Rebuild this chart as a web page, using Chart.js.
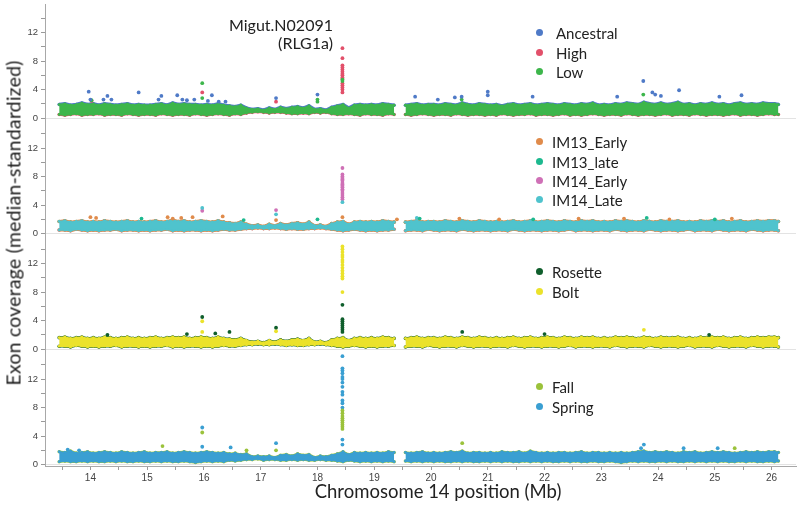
<!DOCTYPE html>
<html>
<head>
<meta charset="utf-8">
<script src="https://cdn.jsdelivr.net/npm/chart.js@4.4.1/dist/chart.umd.min.js"></script>
<style>
  body { margin: 0; background: #fff; }
  #wrap { position: relative; width: 800px; height: 505px; font-family: Lato, "Open Sans", sans-serif; color: #222; overflow: hidden; }
  #chart { position: absolute; left: 0; top: 0; }
  .lg { position: absolute; font-size: 15px; line-height: 18px; white-space: nowrap; }
  .lg i { position: absolute; left: -17px; top: 5px; width: 7px; height: 7px; border-radius: 50%; }
  .note { position: absolute; font-size: 16px; line-height: 20px; text-align: right; white-space: nowrap; }
  #ytitle { position: absolute; left: 13px; top: 223px; font-size: 19.5px; letter-spacing: 0.2px; white-space: nowrap; transform: translate(-50%, -50%) rotate(-90deg); }
  #xtitle { position: absolute; left: 438px; top: 491px; font-size: 18.5px; white-space: nowrap; transform: translate(-50%, -50%); }
</style>
</head>
<body>
<div id="wrap">
  <canvas id="chart" width="800" height="505"></canvas>
  <div class="note" style="left:180px;width:153px;top:15px">Migut.N02091</div>
  <div class="note" style="left:180px;width:153px;top:33px">(RLG1a)</div>
  <div id="legends"></div>
  <div id="ytitle">Exon coverage (median-standardized)</div>
  <div id="xtitle">Chromosome 14 position (Mb)</div>
</div>
<script>
// bin centres (Mb) used for the dense coverage band
const binMb = [13.45,13.55,13.65,13.75,13.85,13.95,
  14.05,14.15,14.25,14.35,14.45,14.55,14.65,14.75,14.85,14.95,
  15.05,15.15,15.25,15.35,15.45,15.55,15.65,15.75,15.85,15.95,
  16.05,16.15,16.25,16.35,16.45,16.55,16.65,16.75,16.85,16.95,
  17.05,17.15,17.25,17.35,17.45,17.55,17.65,17.75,17.85,17.95,
  18.05,18.15,18.25,18.35,18.45,18.55,18.65,18.75,18.85,18.95,
  19.05,19.15,19.25,19.35,19.45,19.55,19.65,19.75,19.85,19.95,
  20.05,20.15,20.25,20.35,20.45,20.55,20.65,20.75,20.85,20.95,
  21.05,21.15,21.25,21.35,21.45,21.55,21.65,21.75,21.85,21.95,
  22.05,22.15,22.25,22.35,22.45,22.55,22.65,22.75,22.85,22.95,
  23.05,23.15,23.25,23.35,23.45,23.55,23.65,23.75,23.85,23.95,
  24.05,24.15,24.25,24.35,24.45,24.55,24.65,24.75,24.85,24.95,
  25.05,25.15,25.25,25.35,25.45,25.55,25.65,25.75,25.85,25.95,
  26.05,26.12];

const xTickMb = [13.5,14,14.5,15,15.5,16,16.5,17,17.5,18,18.5,19,19.5,20,20.5,21,21.5,22,22.5,23,23.5,24,24.5,25,25.5,26];
const yTicks = [0,2,4,6,8,10,12,14];

// panel 1: Ancestral / High / Low  (band = top and bottom of the point cloud)
const p1Hi = [1.9,2.0,1.8,1.9,2.1,1.9,
  2.0,1.8,2.0,1.9,1.8,1.9,2.0,1.8,1.9,1.8,
  1.8,1.9,2.0,1.8,2.1,1.9,2.0,1.9,1.9,1.8,
  1.9,1.8,2.0,1.8,1.7,1.6,1.8,1.4,1.2,1.3,
  1.1,1.4,1.2,1.5,1.3,1.5,1.6,1.4,1.7,1.2,
  1.3,1.1,1.5,1.7,1.9,1.4,1.8,1.9,1.8,1.9,
  1.8,2.0,1.9,1.8,null,1.8,1.9,2.0,1.8,1.9,
  1.9,1.8,2.0,1.9,1.8,2.1,1.9,1.8,2.0,1.9,
  1.8,1.9,1.7,1.9,2.0,1.8,1.9,2.0,1.8,1.9,
  2.0,1.9,1.8,2.0,1.9,1.8,2.0,1.9,2.1,1.8,
  1.9,1.8,2.0,1.9,2.1,2.0,1.9,2.2,2.0,1.9,
  2.1,1.9,2.0,2.2,1.9,2.0,1.8,2.0,1.9,2.1,
  1.9,2.0,1.8,2.0,2.1,1.9,2.0,1.9,2.1,2.0,
  2.0,1.9];
const p1Lo = [0.5,0.4,0.5,0.6,0.4,0.5,
  0.5,0.6,0.4,0.5,0.5,0.4,0.6,0.5,0.4,0.5,
  0.5,0.4,0.6,0.5,0.4,0.5,0.5,0.4,0.6,0.5,
  0.4,0.5,0.6,0.5,0.4,0.6,0.5,0.7,0.8,0.9,
  0.8,0.7,0.8,0.8,0.7,0.6,0.6,0.7,0.6,0.8,
  0.7,0.8,0.6,0.5,0.5,0.6,0.5,0.4,0.6,0.5,
  0.5,0.4,0.6,0.5,null,0.5,0.4,0.5,0.6,0.5,
  0.4,0.5,0.5,0.4,0.6,0.5,0.4,0.5,0.5,0.4,
  0.5,0.4,0.6,0.5,0.4,0.5,0.5,0.6,0.4,0.5,
  0.5,0.4,0.5,0.6,0.4,0.5,0.4,0.5,0.6,0.5,
  0.4,0.5,0.5,0.4,0.6,0.5,0.4,0.5,0.5,0.4,
  0.5,0.6,0.4,0.5,0.5,0.4,0.6,0.5,0.4,0.5,
  0.5,0.4,0.5,0.6,0.4,0.5,0.5,0.4,0.5,0.6,
  0.5,0.5];

// panel 2: IM13 / IM14
const p2Hi = [1.7,1.8,1.6,1.7,1.8,1.6,
  1.7,1.6,1.8,1.7,1.6,1.7,1.8,1.6,1.7,1.6,
  1.7,1.8,1.6,1.7,1.9,1.7,1.8,1.6,1.7,1.8,
  1.7,1.6,1.8,1.6,1.5,1.4,1.6,1.3,1.1,1.2,
  1.0,1.3,1.1,1.4,1.2,1.4,1.5,1.3,1.6,1.1,
  1.2,1.0,1.4,1.6,1.7,1.3,1.6,1.7,1.6,1.7,
  1.6,1.8,1.7,1.6,null,1.6,1.7,1.8,1.6,1.7,
  1.7,1.6,1.8,1.7,1.6,1.8,1.7,1.6,1.8,1.7,
  1.6,1.7,1.6,1.7,1.8,1.6,1.7,1.8,1.6,1.7,
  1.8,1.7,1.6,1.8,1.7,1.6,1.8,1.7,1.8,1.6,
  1.7,1.6,1.8,1.7,1.8,1.7,1.6,1.8,1.7,1.6,
  1.8,1.7,1.7,1.8,1.6,1.7,1.6,1.8,1.7,1.8,
  1.7,1.8,1.6,1.7,1.8,1.6,1.7,1.8,1.7,1.8,
  1.8,1.7];
const p2Lo = [0.5,0.5,0.4,0.6,0.5,0.4,
  0.5,0.4,0.5,0.5,0.6,0.4,0.5,0.5,0.4,0.5,
  0.4,0.5,0.5,0.6,0.4,0.5,0.4,0.5,0.5,0.4,
  0.5,0.4,0.5,0.6,0.5,0.5,0.6,0.7,0.7,0.8,
  0.7,0.7,0.8,0.7,0.6,0.7,0.6,0.6,0.7,0.7,
  0.8,0.7,0.6,0.5,0.4,0.5,0.6,0.5,0.4,0.5,
  0.4,0.5,0.5,0.6,null,0.4,0.5,0.5,0.4,0.6,
  0.5,0.4,0.5,0.5,0.4,0.6,0.5,0.4,0.5,0.5,
  0.4,0.5,0.5,0.4,0.6,0.5,0.4,0.5,0.5,0.4,
  0.5,0.5,0.4,0.5,0.6,0.4,0.5,0.5,0.4,0.5,
  0.5,0.4,0.6,0.5,0.4,0.5,0.5,0.4,0.6,0.5,
  0.4,0.5,0.5,0.4,0.5,0.6,0.4,0.5,0.5,0.4,
  0.6,0.5,0.4,0.5,0.5,0.4,0.6,0.5,0.4,0.5,
  0.5,0.4];

// panel 3: Rosette / Bolt
const p3Hi = [1.6,1.7,1.5,1.6,1.7,1.5,
  1.6,1.5,1.7,1.6,1.5,1.6,1.7,1.5,1.6,1.5,
  1.6,1.7,1.5,1.6,1.7,1.6,1.7,1.5,1.6,1.7,
  1.6,1.5,1.7,1.5,1.4,1.3,1.5,1.2,1.0,1.1,
  0.9,1.2,1.0,1.3,1.1,1.3,1.4,1.2,1.5,1.0,
  1.1,0.9,1.3,1.5,1.6,1.2,1.5,1.6,1.5,1.6,
  1.5,1.7,1.6,1.5,null,1.5,1.6,1.7,1.5,1.6,
  1.6,1.5,1.7,1.6,1.5,1.7,1.6,1.5,1.7,1.6,
  1.5,1.6,1.5,1.6,1.7,1.5,1.6,1.7,1.5,1.6,
  1.7,1.6,1.5,1.7,1.6,1.5,1.7,1.6,1.7,1.5,
  1.6,1.5,1.7,1.6,1.7,1.6,1.5,1.7,1.6,1.5,
  1.7,1.6,1.6,1.7,1.5,1.6,1.5,1.7,1.6,1.7,
  1.6,1.7,1.5,1.6,1.7,1.5,1.6,1.7,1.6,1.7,
  1.7,1.6];
const p3Lo = [0.4,0.4,0.3,0.5,0.4,0.3,
  0.4,0.3,0.4,0.4,0.5,0.3,0.4,0.4,0.3,0.4,
  0.3,0.4,0.4,0.5,0.3,0.4,0.3,0.4,0.4,0.3,
  0.4,0.3,0.4,0.5,0.4,0.4,0.5,0.6,0.6,0.7,
  0.6,0.6,0.7,0.6,0.5,0.6,0.5,0.5,0.6,0.6,
  0.7,0.6,0.5,0.4,0.3,0.4,0.5,0.4,0.3,0.4,
  0.3,0.4,0.4,0.5,null,0.3,0.4,0.4,0.3,0.5,
  0.4,0.3,0.4,0.4,0.3,0.5,0.4,0.3,0.4,0.4,
  0.3,0.4,0.4,0.3,0.5,0.4,0.3,0.4,0.4,0.3,
  0.4,0.4,0.3,0.4,0.5,0.3,0.4,0.4,0.3,0.4,
  0.4,0.3,0.5,0.4,0.3,0.4,0.4,0.3,0.5,0.4,
  0.3,0.4,0.4,0.3,0.4,0.5,0.3,0.4,0.4,0.3,
  0.5,0.4,0.3,0.4,0.4,0.3,0.5,0.4,0.3,0.4,
  0.4,0.3];

// panel 4: Fall / Spring
const p4Hi = [1.8,1.7,1.9,1.6,1.7,1.8,
  1.6,1.7,1.8,1.7,1.6,1.8,1.7,1.6,1.7,1.8,
  1.6,1.7,1.7,1.8,1.6,1.7,1.8,1.7,1.6,1.7,
  1.8,1.7,1.6,1.7,1.5,1.6,1.4,1.5,1.1,1.2,
  1.1,1.2,1.0,1.3,1.4,1.2,1.5,1.3,1.4,1.0,
  1.2,1.1,1.3,1.5,1.8,1.4,1.7,1.6,1.7,1.6,
  1.7,1.6,1.8,1.7,null,1.7,1.6,1.7,1.8,1.6,
  1.7,1.6,1.7,1.8,1.7,1.9,1.6,1.7,1.7,1.6,
  1.7,1.6,1.8,1.7,1.7,1.8,1.6,1.9,1.7,1.6,
  1.7,1.6,1.7,1.7,1.6,1.7,1.8,1.6,1.7,1.7,
  1.6,1.7,1.6,1.7,1.6,1.7,1.8,1.9,1.7,1.8,
  1.7,1.8,1.7,1.6,1.8,1.7,1.8,1.6,1.7,1.8,
  1.7,1.8,1.7,1.6,1.7,1.8,1.7,1.8,1.7,1.8,
  1.8,1.7];
const p4Lo = [0.4,0.5,0.4,0.4,0.5,0.4,
  0.5,0.4,0.4,0.5,0.4,0.5,0.4,0.4,0.5,0.4,
  0.4,0.5,0.4,0.5,0.4,0.4,0.5,0.4,0.3,0.4,
  0.5,0.4,0.5,0.4,0.6,0.5,0.6,0.7,0.7,0.8,
  0.6,0.7,0.7,0.6,0.6,0.7,0.6,0.7,0.6,0.6,
  0.7,0.6,0.6,0.5,0.4,0.6,0.5,0.4,0.5,0.4,
  0.5,0.4,0.5,0.4,null,0.5,0.4,0.5,0.4,0.5,
  0.4,0.5,0.4,0.4,0.5,0.4,0.5,0.4,0.4,0.5,
  0.4,0.5,0.4,0.5,0.4,0.4,0.5,0.4,0.5,0.4,
  0.5,0.4,0.4,0.5,0.4,0.5,0.4,0.4,0.5,0.4,
  0.4,0.5,0.4,0.3,0.4,0.5,0.4,0.5,0.4,0.4,
  0.5,0.4,0.5,0.4,0.4,0.5,0.4,0.5,0.4,0.5,
  0.4,0.5,0.4,0.4,0.5,0.4,0.5,0.4,0.4,0.5,
  0.4,0.5];

// individual exons standing out of the band: [Mb, coverage]
const ancestralPts = [[13.97,3.7],[14.0,2.6],[14.3,3.1],[14.23,2.6],[14.37,2.6],[14.85,3.6],[15.2,2.6],[15.25,3.1],
  [15.53,3.2],[15.62,2.6],[15.7,2.5],[15.83,2.6],[16.07,2.4],[16.14,3.2],[16.26,2.3],[16.38,2.3],[17.27,2.8],
  [18.0,3.3],[19.72,3.0],[20.12,2.6],[20.42,2.9],[20.54,3.0],[21.0,3.7],[21.0,3.2],[21.79,3.0],[23.28,3.0],
  [23.74,5.2],[23.9,3.6],[23.95,3.3],[24.05,3.1],[24.37,3.9],[25.08,3.0],[25.47,3.2]];
const highPts = [[14.02,2.4],[15.97,3.6],[17.27,2.3],[18.44,9.8],[18.44,8.4],[18.44,7.4],[18.44,7.1],[18.44,6.8],
  [18.44,6.5],[18.44,6.2],[18.44,6.0],[18.44,5.7],[18.44,5.5],[18.44,4.9],[18.44,4.6],[18.44,4.3],[18.44,4.0],[18.44,3.6]];
const lowPts = [[14.02,2.5],[15.97,4.9],[15.97,2.8],[18.0,2.6],[18.0,2.3],[18.44,5.4],[18.44,5.2],[20.54,2.6],[23.74,3.3]];

const im13EarlyPts = [[14.0,2.3],[14.1,2.2],[15.36,2.3],[15.45,2.1],[15.6,2.2],[15.8,2.3],[16.33,2.4],[17.27,1.9],
  [18.44,2.3],[19.4,2.0],[20.5,2.1],[21.2,2.0],[22.6,2.1],[23.4,2.1],[24.2,2.0],[25.3,2.1]];
const im13LatePts = [[14.9,2.1],[16.7,1.9],[18.0,2.0],[19.8,2.1],[21.8,2.0],[23.8,2.2],[25.0,2.0]];
const im14EarlyPts = [[15.97,3.2],[17.27,3.3],[18.44,9.2],[18.44,8.3],[18.44,8.0],[18.44,7.8],[18.44,7.6],[18.44,7.4],
  [18.44,7.1],[18.44,6.9],[18.44,6.7],[18.44,6.5],[18.44,6.2],[18.44,6.0],[18.44,5.7],[18.44,5.4],[18.44,5.1],[18.44,4.8]];
const im14LatePts = [[15.97,3.6],[17.27,2.7],[18.44,4.4],[19.75,2.2]];

const rosettePts = [[14.3,2.0],[15.7,2.1],[15.97,4.5],[16.2,2.2],[16.45,2.4],[17.27,3.0],[18.44,6.2],[18.44,4.2],
  [18.44,3.9],[18.44,3.6],[18.44,3.3],[18.44,3.0],[18.44,2.7],[18.44,2.4],[20.55,2.4],[22.0,2.1],[24.9,2.0]];
const boltPts = [[15.97,3.9],[15.97,2.4],[17.27,2.5],[23.75,2.7],[18.44,14.4],[18.44,14.0],[18.44,13.6],[18.44,13.2],
  [18.44,12.9],[18.44,12.5],[18.44,12.2],[18.44,11.8],[18.44,11.4],[18.44,11.0],[18.44,10.6],[18.44,10.2],[18.44,9.9],[18.44,8.0]];

const fallPts = [[15.27,2.6],[15.97,4.5],[16.75,2.0],[17.27,2.0],[18.44,7.6],[18.44,7.2],[18.44,6.8],[18.44,6.5],
  [18.44,6.2],[18.44,5.9],[18.44,5.6],[18.44,5.3],[18.44,5.0],[20.55,3.0],[25.35,2.3]];
const springPts = [[13.6,2.1],[13.8,2.0],[15.97,5.2],[15.97,2.5],[16.47,2.4],[17.27,3.0],[18.44,15.2],[18.44,13.5],
  [18.44,13.2],[18.44,12.8],[18.44,12.3],[18.44,12.0],[18.44,11.5],[18.44,10.9],[18.44,10.2],[18.44,9.8],[18.44,9.0],
  [18.44,8.6],[18.44,8.0],[18.44,3.5],[18.44,2.8],[23.7,2.3],[23.75,2.8],[24.45,2.3],[25.05,2.3]];

const COLORS = {
  Ancestral: '#4f7ac7', High: '#e2506a', Low: '#3db64b',
  IM13_Early: '#e08b4b', IM13_late: '#1db98f', IM14_Early: '#cf70b6', IM14_Late: '#4fc3cd',
  Rosette: '#0f5e2c', Bolt: '#ebe22b',
  Fall: '#9bc23b', Spring: '#3a9fd2'
};

const toXY = ys => ys.map((v, i) => ({ x: binMb[i], y: v }));
const toPts = pts => pts.map(p => ({ x: p[0], y: p[1] }));

const datasets = [];
function addBand(axis, hi, lo, color) {
  datasets.push({ data: toXY(lo), yAxisID: axis, borderColor: color, borderWidth: 1.5, pointRadius: 1.4,
    pointBackgroundColor: color, pointBorderWidth: 0, fill: false, order: 10 });
  const loIdx = datasets.length - 1;
  datasets.push({ data: toXY(hi), yAxisID: axis, borderColor: color, borderWidth: 1.5, pointRadius: 1.4,
    pointBackgroundColor: color, pointBorderWidth: 0, backgroundColor: color, fill: loIdx, order: 10 });
}
function addEdge(axis, vals, color, width) {
  datasets.push({ data: toXY(vals), yAxisID: axis, borderColor: color, borderWidth: width, pointRadius: 1.8,
    pointBackgroundColor: color, pointBorderWidth: 0, fill: false, order: 20 });
}
function addPts(axis, pts, color) {
  datasets.push({ data: toPts(pts), yAxisID: axis, showLine: false, pointRadius: 1.9,
    pointBackgroundColor: color, pointBorderWidth: 0, order: 1 });
}

// panel 1
addEdge('y1', p1Hi, COLORS.Ancestral, 3.5);
addEdge('y1', p1Lo, COLORS.High, 2.5);
addBand('y1', p1Hi, p1Lo, COLORS.Low);
addPts('y1', ancestralPts, COLORS.Ancestral);
addPts('y1', lowPts, COLORS.Low);
addPts('y1', highPts, COLORS.High);
// panel 2
addEdge('y2', p2Hi, COLORS.IM13_Early, 3);
addEdge('y2', p2Lo, COLORS.IM13_Early, 3);
addEdge('y2', p2Lo, COLORS.IM14_Early, 2);
addEdge('y2', p2Hi, COLORS.IM13_late, 2);
addBand('y2', p2Hi, p2Lo, COLORS.IM14_Late);
addPts('y2', im13EarlyPts, COLORS.IM13_Early);
addPts('y2', im13LatePts, COLORS.IM13_late);
addPts('y2', im14LatePts, COLORS.IM14_Late);
addPts('y2', im14EarlyPts, COLORS.IM14_Early);
// panel 3
addEdge('y3', p3Hi, COLORS.Rosette, 2.5);
addEdge('y3', p3Lo, COLORS.Rosette, 2.5);
addBand('y3', p3Hi, p3Lo, COLORS.Bolt);
addPts('y3', rosettePts, COLORS.Rosette);
addPts('y3', boltPts, COLORS.Bolt);
// panel 4
addEdge('y4', p4Hi, COLORS.Fall, 2.5);
addEdge('y4', p4Lo, COLORS.Fall, 2.5);
addBand('y4', p4Hi, p4Lo, COLORS.Spring);
addPts('y4', fallPts, COLORS.Fall);
addPts('y4', springPts, COLORS.Spring);

const tickFont = { family: '"Liberation Sans", Arial, sans-serif', size: 9.5 };

function panelAxis() {
  return {
    type: 'linear', position: 'left', stack: 'panels', stackWeight: 1,
    min: -0.2, max: 16,
    afterBuildTicks: s => { s.ticks = yTicks.map(v => ({ value: v })); },
    afterFit: s => { s.width = 45; s.paddingTop = 0; s.paddingBottom = 0; },
    ticks: { autoSkip: false, padding: 3, color: '#444', font: tickFont,
      callback: v => (v % 4 === 0 ? v : '') },
    grid: { color: c => (c.tick && c.tick.value === 0 ? '#e3e3e3' : 'rgba(0,0,0,0)'),
      tickColor: '#9a9a9a', tickLength: 4 },
    border: { color: '#a8a8a8' }
  };
}

new Chart(document.getElementById('chart'), {
  type: 'line',
  data: { datasets },
  options: {
    responsive: false,
    animation: false,
    events: [],
    layout: { padding: 0 },
    plugins: { legend: { display: false }, tooltip: { enabled: false } },
    scales: {
      x: {
        type: 'linear', position: 'bottom', min: 13.2, max: 26.43,
        afterBuildTicks: s => { s.ticks = xTickMb.map(v => ({ value: v })); },
        afterFit: s => { s.height = 39; s.paddingLeft = 0; s.paddingRight = 0; },
        ticks: { autoSkip: false, maxRotation: 0, padding: 2, color: '#444', font: { ...tickFont, size: 10 },
          callback: v => (Number.isInteger(v) ? v : '') },
        grid: { drawOnChartArea: false, tickColor: '#9a9a9a', tickLength: 4 },
        border: { color: '#a8a8a8' }
      },
      // stacked scales are laid out bottom-up in definition order
      y4: panelAxis(),
      y3: panelAxis(),
      y2: panelAxis(),
      y1: panelAxis()
    }
  }
});

// legends placed inside each panel
const legendRows = [
  [['Ancestral', 33], ['High', 53], ['Low', 72]],
  [['IM13_Early', 142], ['IM13_late', 162], ['IM14_Early', 181], ['IM14_Late', 200]],
  [['Rosette', 272], ['Bolt', 292]],
  [['Fall', 387], ['Spring', 407]]
];
const lg = document.getElementById('legends');
legendRows.forEach((rows, p) => {
  rows.forEach(([name, cy]) => {
    const d = document.createElement('div');
    d.className = 'lg';
    d.style.left = (p === 0 ? 556 : 552) + 'px';
    d.style.top = (cy - 9) + 'px';
    d.innerHTML = `<i style="background:${COLORS[name]};left:${p === 0 ? -20 : -16}px"></i>${name}`;
    lg.appendChild(d);
  });
});
</script>
</body>
</html>
